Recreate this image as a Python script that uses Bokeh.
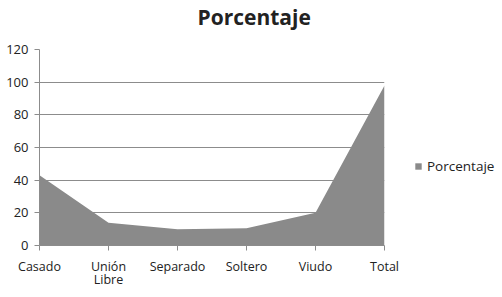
from bokeh.plotting import figure
from bokeh.models import Range1d, FixedTicker, Legend, LegendItem, ColumnDataSource, Title
from bokeh.embed import file_html
from bokeh.resources import INLINE

categories = ["Casado", "Unión\nLibre", "Separado", "Soltero", "Viudo", "Total"]
porcentaje = [43, 14, 10, 10.5, 20, 98]
y_ticks = [0, 20, 40, 60, 80, 100, 120]

xs = list(range(len(categories)))
src = ColumnDataSource(dict(x=xs, y=porcentaje, base=[0] * len(xs)))

FONT = "Open Sans"
p = figure(frame_width=345, frame_height=196, output_backend="svg", toolbar_location=None,
           x_range=Range1d(0, len(categories) - 1), y_range=Range1d(0, 120),
           min_border_left=39, min_border_right=102, min_border_top=0, min_border_bottom=40)
p.outline_line_color = None
p.background_fill_color = "white"

spacer = Title(text=" ", text_font_size="1px", standoff=16)
p.add_layout(spacer, "above")
title = Title(text="Porcentaje", align="left", offset=158, standoff=0,
              text_font=FONT, text_font_style="bold", text_font_size="21px",
              text_color="#222222")
p.add_layout(title, "above")

r = p.varea(x="x", y1="base", y2="y", source=src, fill_color="#8a8a8a")

p.xgrid.grid_line_color = None
p.ygrid.grid_line_color = "#8c8c8c"
p.ygrid.grid_line_width = 1
p.yaxis.ticker = FixedTicker(ticks=y_ticks)
p.xaxis.ticker = FixedTicker(ticks=xs)
p.xaxis.major_label_overrides = {i: c for i, c in zip(xs, categories)}

for ax in (p.xaxis, p.yaxis):
    ax.axis_line_color = "#8c8c8c"
    ax.major_tick_line_color = "#8c8c8c"
    ax.minor_tick_line_color = None
    ax.major_label_text_font = FONT
    ax.major_label_text_font_size = "12.5px"
    ax.major_label_text_color = "#222222"
    ax.major_tick_in = 0
    ax.major_tick_out = 5
p.yaxis.major_label_text_font_size = "13px"
p.yaxis.major_label_standoff = 6
p.xaxis.major_label_standoff = 7
p.xaxis.major_label_text_line_height = 0.8

legend = Legend(items=[LegendItem(label="Porcentaje", renderers=[r])],
                location=(30, 70), label_text_font=FONT, label_text_font_size="13.5px",
                label_text_color="#222222", glyph_width=8, glyph_height=8,
                background_fill_alpha=0, border_line_color=None, padding=0, margin=0,
                label_standoff=5)
p.add_layout(legend, "right")

open("out.html", "w").write(file_html(p, INLINE))
